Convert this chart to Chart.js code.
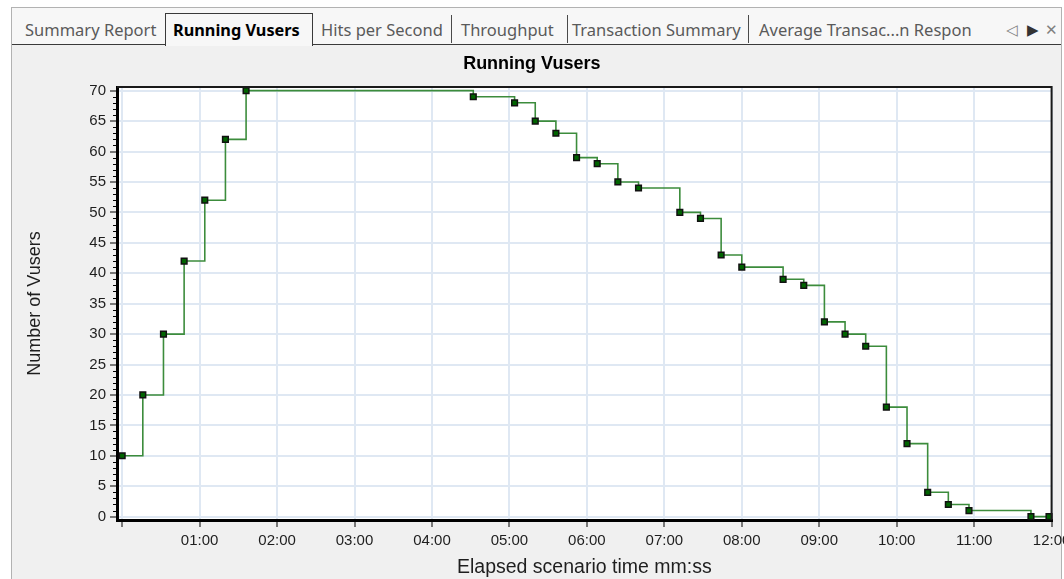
<!DOCTYPE html>
<html>
<head>
<meta charset="utf-8">
<title>Running Vusers</title>
<script src="https://cdn.jsdelivr.net/npm/chart.js@4.4.1/dist/chart.umd.min.js"></script>
<style>
  html, body { margin: 0; padding: 0; }
  body {
    width: 1064px; height: 579px; overflow: hidden; position: relative;
    background: #fff; font-family: 'Noto Sans', 'Open Sans', sans-serif;
  }
  #panel {
    position: absolute; left: 11px; top: 7px; width: 1049px; height: 600px;
    background: #f0f0f0; border: 1px solid #b2b2b2; border-bottom: none;
  }
  #tabbar {
    position: absolute; left: 12px; top: 8px; width: 1049px; height: 36px;
    background: #f7f7f7; border-bottom: 1px solid #3a3a3a;
  }
  #activeTab {
    position: absolute; left: 165px; top: 13px; width: 146px; height: 32px;
    background: #f7f7f7; border: 1px solid #3a3a3a; border-bottom: none;
  }
  .tab {
    position: absolute; top: 17px; height: 26px; line-height: 26px;
    font-size: 16.5px; color: #5a5a5a; white-space: nowrap;
  }
  .tab.on { color: #000; font-weight: bold; font-size: 16.3px; }
  .sep { position: absolute; top: 15px; width: 1px; height: 28px; background: #4a4a4a; }
  .nav {
    position: absolute; top: 17px; height: 26px; line-height: 26px;
    font-family: 'DejaVu Sans', sans-serif; font-size: 15px; color: #808080;
  }
  #chartBox { position: absolute; left: 12px; top: 45px; }
</style>
</head>
<body>
<div id="panel"></div>
<div id="tabbar"></div>
<div id="activeTab"></div>
<div class="tab" style="left:25px">Summary Report</div>
<div class="tab on" style="left:173px">Running Vusers</div>
<div class="tab" style="left:321px">Hits per Second</div>
<div class="sep" style="left:451px"></div>
<div class="tab" style="left:461px">Throughput</div>
<div class="sep" style="left:567px"></div>
<div class="tab" style="left:572px">Transaction Summary</div>
<div class="sep" style="left:748px"></div>
<div class="tab" style="left:759px">Average Transac...n Respon</div>
<div class="nav" style="left:1006px">◁</div>
<div class="nav" style="left:1027px; color:#333">▶</div>
<div class="nav" style="left:1045px">✕</div>

<div id="chartBox"><canvas id="vusers" width="1090" height="534"></canvas></div>

<script>
//--------------------------------------------Data
// elapsed time in seconds and running vusers at each change
const elapsed = [0, 16, 32, 48, 64, 80, 96, 272, 304, 320, 336, 352, 368, 384, 400, 432,
    448, 464, 480, 512, 528, 544, 560, 576, 592, 608, 624, 640, 656, 704, 718];
const vusers = [10, 20, 30, 42, 52, 62, 70, 69, 68, 65, 63, 59, 58, 55, 54, 50,
    49, 43, 41, 39, 38, 32, 30, 28, 18, 12, 4, 2, 1, 0, 0];

const xTicks = [0, 60, 120, 180, 240, 300, 360, 420, 480, 540, 600, 660, 720];
const xTickLabels = ['', '01:00', '02:00', '03:00', '04:00', '05:00', '06:00',
    '07:00', '08:00', '09:00', '10:00', '11:00', '12:00'];
const yTicks = [0, 5, 10, 15, 20, 25, 30, 35, 40, 45, 50, 55, 60, 65, 70];

const FONT = "'Liberation Sans', Arial, sans-serif";

//--------------------------------------------Plugins
// white plot background, small y ticks and the top/right frame
const plotFrame = {
    id: 'plotFrame',
    beforeDraw(chart) {
        const { ctx, chartArea: a } = chart;
        ctx.save();
        ctx.fillStyle = '#fff';
        ctx.fillRect(a.left, a.top, a.right - a.left, a.bottom - a.top);
        ctx.restore();
    },
    afterDraw(chart) {
        const { ctx, chartArea: a, scales: { y } } = chart;
        ctx.save();
        ctx.strokeStyle = '#000';
        ctx.lineWidth = 1;
        for (let v = yTicks[0]; v <= yTicks[yTicks.length - 1]; v++) {
            if (v % 5 === 0) continue;
            const py = Math.round(y.getPixelForValue(v)) + 0.5;
            ctx.beginPath();
            ctx.moveTo(a.left - 4, py);
            ctx.lineTo(a.left, py);
            ctx.stroke();
        }
        ctx.strokeStyle = '#1a1a1a';
        ctx.lineWidth = 2;
        ctx.beginPath();
        ctx.moveTo(a.left, a.top);
        ctx.lineTo(a.right, a.top);
        ctx.lineTo(a.right, a.bottom);
        ctx.stroke();
        ctx.restore();
    }
};

//--------------------------------------------Chart
const config = {
    type: 'line',
    data: {
        datasets: [{
            label: 'Running Vusers',
            data: elapsed.map((t, i) => ({ x: t, y: vusers[i] })),
            stepped: 'before',
            borderColor: '#3c8c3c',
            borderWidth: 1.6,
            pointStyle: 'rect',
            pointRadius: 4,
            pointHoverRadius: 4,
            pointBackgroundColor: '#006400',
            pointBorderColor: '#111',
            pointBorderWidth: 1.5,
            clip: 10,
        }]
    },
    options: {
        responsive: false,
        animation: false,
        layout: { padding: { left: 0, right: 50.4, top: 0, bottom: 0 } },
        plugins: {
            legend: { display: false },
            tooltip: { enabled: false },
            title: {
                display: true,
                text: 'Running Vusers',
                color: '#000',
                font: { family: FONT, size: 18, weight: 'bold' },
                padding: { top: 8, bottom: 12.4 },
            }
        },
        scales: {
            x: {
                type: 'linear',
                min: -4,
                max: 720,
                afterBuildTicks: s => { s.ticks = xTicks.map(v => ({ value: v })); },
                afterFit: s => { s.height = 59; },
                ticks: {
                    autoSkip: false,
                    maxRotation: 0,
                    color: '#1e1e1e',
                    padding: 5,
                    font: { family: FONT, size: 15 },
                    callback: (v, i) => xTickLabels[i],
                },
                grid: { color: '#dfe8f3', lineWidth: 2, tickColor: '#000', tickLength: 7, tickWidth: 1 },
                border: { color: '#000', width: 3 },
                title: {
                    display: true,
                    text: 'Elapsed scenario time mm:ss',
                    color: '#1e1e1e',
                    font: { family: FONT, size: 19.5 },
                    padding: { top: 4, bottom: 0 },
                }
            },
            y: {
                min: -0.55,
                max: 70.6,
                afterBuildTicks: s => { s.ticks = yTicks.map(v => ({ value: v })); },
                afterFit: s => { s.width = 105; },
                ticks: {
                    color: '#1e1e1e',
                    padding: 4,
                    font: { family: FONT, size: 15 },
                },
                grid: { color: '#dfe8f3', lineWidth: 2, tickColor: '#000', tickLength: 7, tickWidth: 1 },
                border: { color: '#000', width: 3 },
                title: {
                    display: true,
                    text: 'Number of Vusers',
                    color: '#1e1e1e',
                    font: { family: FONT, size: 18 },
                    padding: { top: 12, bottom: 0 },
                }
            }
        }
    },
    plugins: [plotFrame],
};

new Chart(document.getElementById('vusers'), config);
</script>
</body>
</html>
